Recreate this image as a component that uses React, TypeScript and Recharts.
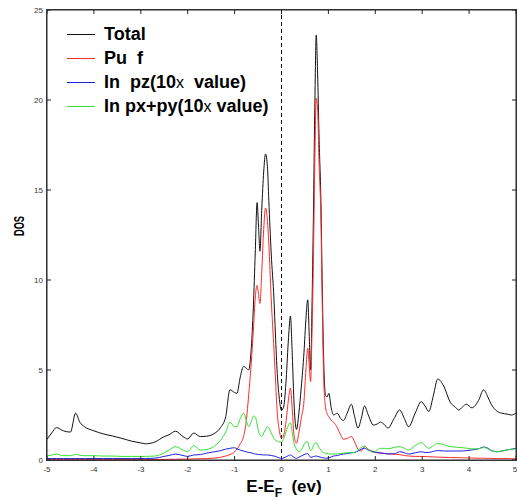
import { LineChart, Line, XAxis, YAxis, ReferenceLine } from 'recharts';

const energy = [
  -5.0, -4.9, -4.8, -4.65, -4.5, -4.39, -4.3, -4.2, -4.0, -3.8,
  -3.6, -3.4, -3.2, -3.0, -2.9, -2.7, -2.5, -2.4, -2.26, -2.1,
  -2.0, -1.87, -1.73, -1.6, -1.45, -1.3, -1.19, -1.1, -1.0, -0.95,
  -0.88, -0.81, -0.75, -0.7, -0.65, -0.6, -0.56, -0.52, -0.49, -0.46,
  -0.42, -0.38, -0.34, -0.3, -0.27, -0.22, -0.16, -0.13, -0.09, -0.05,
  0.0, 0.05, 0.1, 0.15, 0.19, 0.23, 0.27, 0.32, 0.37, 0.42,
  0.48, 0.52, 0.56, 0.59, 0.62, 0.65, 0.68, 0.71, 0.74, 0.77,
  0.8, 0.84, 0.87, 0.9, 0.94, 0.97, 1.01, 1.06, 1.11, 1.19,
  1.26, 1.32, 1.4, 1.49, 1.56, 1.63, 1.7, 1.77, 1.85, 1.96,
  2.04, 2.11, 2.2, 2.27, 2.4, 2.52, 2.62, 2.71, 2.85, 2.98,
  3.06, 3.14, 3.24, 3.33, 3.46, 3.6, 3.7, 3.78, 3.86, 3.94,
  4.06, 4.2, 4.31, 4.4, 4.46, 4.6, 4.7, 4.81, 4.9, 5.0,
];

const total = [
  1.15, 1.5, 1.8, 1.62, 1.55, 2.6, 2.1, 1.85, 1.62, 1.45,
  1.33, 1.2, 1.05, 0.95, 0.9, 1.0, 1.3, 1.4, 1.6, 1.3,
  1.17, 1.5, 1.3, 1.32, 1.45, 1.8, 2.4, 3.9, 3.75, 3.7,
  4.6, 5.2, 5.1, 5.0, 6.0, 8.5, 11.5, 14.3, 13.0, 11.6,
  14.0, 16.0, 17.0, 16.3, 14.4, 11.5, 8.9, 7.0, 4.8, 3.5,
  2.75, 3.0, 4.5, 6.8, 8.0, 5.8, 3.0, 1.7, 2.6, 4.0,
  6.0, 7.8, 8.9, 7.0, 5.0, 8.5, 13.5, 19.5, 23.6, 21.5,
  18.0, 14.4, 9.5, 5.5, 3.6, 3.5, 3.7, 2.9, 2.5, 2.6,
  2.3, 2.2, 2.6, 3.1, 2.4, 1.77, 2.3, 3.0, 2.5, 1.94,
  2.0, 2.1, 1.95, 1.77, 2.3, 2.78, 2.3, 1.85, 2.6, 3.24,
  3.0, 2.7, 3.6, 4.5, 4.1, 3.2, 2.95, 2.78, 2.95, 3.1,
  2.9, 3.3, 3.9, 3.5, 3.15, 2.7, 2.6, 2.55, 2.5, 2.6,
];

const puF = [
  0.02, 0.02, 0.02, 0.02, 0.02, 0.02, 0.02, 0.02, 0.02, 0.02,
  0.02, 0.02, 0.02, 0.02, 0.02, 0.03, 0.03, 0.04, 0.04, 0.05,
  0.05, 0.06, 0.07, 0.08, 0.1, 0.15, 0.22, 0.3, 0.45, 0.6,
  0.9, 1.3, 2.2, 3.6, 5.2, 7.2, 9.0, 9.7, 9.2, 8.7,
  10.5, 12.8, 14.0, 13.3, 12.0, 9.0, 6.1, 4.6, 2.6, 1.7,
  1.2, 1.4, 2.2, 3.4, 4.0, 2.8, 1.3, 0.93, 1.5, 2.3,
  3.3, 5.0, 6.2, 5.3, 4.35, 7.0, 11.0, 16.5, 20.1, 19.5,
  16.5, 13.5, 8.5, 4.5, 2.9, 2.6, 2.4, 2.2, 2.1, 1.8,
  1.4, 1.15, 1.2, 1.3, 1.0, 0.6, 0.5, 0.74, 0.6, 0.45,
  0.4, 0.38, 0.36, 0.34, 0.33, 0.3, 0.25, 0.22, 0.2, 0.2,
  0.19, 0.18, 0.17, 0.16, 0.15, 0.14, 0.13, 0.13, 0.12, 0.12,
  0.11, 0.1, 0.1, 0.09, 0.09, 0.08, 0.08, 0.08, 0.07, 0.07,
];

const inPz = [
  0.08, 0.08, 0.08, 0.08, 0.08, 0.08, 0.08, 0.08, 0.08, 0.08,
  0.08, 0.08, 0.08, 0.08, 0.08, 0.1, 0.2, 0.25, 0.33, 0.25,
  0.2, 0.28, 0.3, 0.38, 0.45, 0.52, 0.6, 0.65, 0.68, 0.62,
  0.55, 0.5, 0.46, 0.42, 0.4, 0.36, 0.33, 0.32, 0.3, 0.3,
  0.29, 0.28, 0.28, 0.28, 0.27, 0.25, 0.22, 0.2, 0.16, 0.12,
  0.09, 0.12, 0.18, 0.25, 0.28, 0.22, 0.14, 0.09, 0.15, 0.22,
  0.3, 0.34, 0.35, 0.25, 0.15, 0.16, 0.19, 0.21, 0.22, 0.2,
  0.18, 0.15, 0.13, 0.12, 0.1, 0.1, 0.12, 0.17, 0.22, 0.25,
  0.3, 0.33, 0.36, 0.4, 0.42, 0.5, 0.6, 0.65, 0.55, 0.46,
  0.42, 0.4, 0.36, 0.34, 0.34, 0.46, 0.4, 0.33, 0.4, 0.46,
  0.42, 0.42, 0.48, 0.52, 0.5, 0.5, 0.5, 0.5, 0.5, 0.52,
  0.56, 0.62, 0.72, 0.65, 0.55, 0.46, 0.5, 0.56, 0.6, 0.65,
];

const inPxPy = [
  0.22, 0.28, 0.33, 0.24, 0.24, 0.31, 0.26, 0.24, 0.24, 0.22,
  0.22, 0.2, 0.2, 0.2, 0.2, 0.22, 0.4, 0.55, 0.74, 0.55,
  0.46, 0.8, 0.55, 0.58, 0.74, 1.1, 1.55, 2.1, 1.85, 1.85,
  2.3, 2.6, 2.2, 1.85, 2.1, 2.44, 2.4, 2.0, 1.6, 1.4,
  1.3, 1.5, 1.7, 1.85, 1.8, 1.5, 1.2, 1.1, 1.05, 1.0,
  1.0, 1.2, 1.6, 1.95, 2.07, 1.5, 0.9, 0.6, 0.46, 0.55,
  0.85, 1.0, 1.0, 0.7, 0.52, 0.6, 0.8, 0.93, 0.96, 0.85,
  0.7, 0.55, 0.45, 0.4, 0.38, 0.36, 0.34, 0.33, 0.33, 0.34,
  0.36, 0.38, 0.4, 0.4, 0.42, 0.55, 0.7, 0.78, 0.6, 0.42,
  0.55, 0.65, 0.65, 0.62, 0.7, 0.74, 0.65, 0.56, 0.8, 0.96,
  0.8, 0.65, 0.8, 0.93, 0.85, 0.74, 0.72, 0.7, 0.68, 0.66,
  0.62, 0.62, 0.7, 0.62, 0.52, 0.46, 0.5, 0.56, 0.6, 0.62,
];

const xTicks = [-5, -4, -3, -2, -1, 0, 1, 2, 3, 4, 5];
const yTicks = [0, 5, 10, 15, 20, 25];

const data = energy.map((e, i) => ({
  e,
  total: total[i],
  puF: puF[i],
  inPz: inPz[i],
  inPxPy: inPxPy[i],
}));

const colors = { total: '#111111', puF: '#ff2a2a', inPz: '#2020e0', inPxPy: '#33e033' };

const tickStyle = { fontSize: 8, fill: '#333', fontFamily: 'Arial, "Liberation Sans", sans-serif' };
const axisLine = { stroke: '#222', strokeWidth: 1 };
const tickLine = { stroke: '#222', strokeWidth: 1 };

const legendRows = [
  { key: 'total', parts: [{ t: 'Total' }] },
  { key: 'puF', parts: [{ t: 'Pu  f' }] },
  { key: 'inPz', parts: [{ t: 'In  pz(10' }, { t: 'x', light: true }, { t: '  value)' }] },
  { key: 'inPxPy', parts: [{ t: 'In px+py(10' }, { t: 'x', light: true }, { t: ' value)' }] },
];

// empty tick label for the frame axes, keeps the inward tick marks
const NoLabel = () => <g />;

export default function App() {
  return (
    <div style={{ position: 'absolute', left: 0, top: 0, width: 517, height: 501, background: '#fff', fontFamily: 'Arial, "Liberation Sans", sans-serif' }}>
      <LineChart width={517} height={501} data={data} margin={{ top: 9, right: 0, bottom: 0, left: 0 }}>
        <XAxis
          dataKey="e"
          type="number"
          domain={[-5, 5]}
          ticks={xTicks}
          allowDataOverflow
          height={41}
          tickSize={-4}
          tickMargin={10}
          tick={tickStyle}
          axisLine={axisLine}
          tickLine={tickLine}
        />
        <XAxis
          xAxisId="top"
          orientation="top"
          dataKey="e"
          type="number"
          domain={[-5, 5]}
          ticks={xTicks}
          allowDataOverflow
          height={1}
          tickSize={-4}
          tick={NoLabel}
          axisLine={axisLine}
          tickLine={tickLine}
        />
        <YAxis
          type="number"
          domain={[0, 25]}
          ticks={yTicks}
          allowDataOverflow
          width={47}
          tickSize={-4}
          tickMargin={8}
          tick={tickStyle}
          axisLine={axisLine}
          tickLine={tickLine}
        />
        <YAxis
          yAxisId="right"
          orientation="right"
          type="number"
          domain={[0, 25]}
          ticks={yTicks}
          allowDataOverflow
          width={1}
          tickSize={-4}
          tick={NoLabel}
          axisLine={axisLine}
          tickLine={tickLine}
        />
        <ReferenceLine x={0} stroke="#111" strokeDasharray="4 3" />
        <Line dataKey="total" type="monotone" stroke={colors.total} strokeWidth={1} dot={false} isAnimationActive={false} />
        <Line xAxisId="top" yAxisId="right" dataKey="puF" type="monotone" stroke={colors.puF} strokeWidth={1} dot={false} isAnimationActive={false} />
        <Line dataKey="inPz" type="monotone" stroke={colors.inPz} strokeWidth={1} dot={false} isAnimationActive={false} />
        <Line dataKey="inPxPy" type="monotone" stroke={colors.inPxPy} strokeWidth={1} dot={false} isAnimationActive={false} />
      </LineChart>

      {/* plot frame */}
      <div
        style={{
          position: 'absolute', left: 46, top: 9, width: 469, height: 450,
          border: '1px solid #333',
          pointerEvents: 'none',
        }}
      />

      {legendRows.map((row, i) => (
        <div
          key={row.key}
          style={{ position: 'absolute', left: 67, top: 34 + i * 24.3 - 11, height: 22, display: 'flex', alignItems: 'center' }}
        >
          <div style={{ width: 28, height: 0, borderTop: `1px solid ${colors[row.key as keyof typeof colors]}`, marginRight: 9 }} />
          <span style={{ fontSize: 18, fontWeight: 'bold', color: '#000', whiteSpace: 'pre', lineHeight: '22px' }}>
            {row.parts.map((p, j) => (
              <span key={j} style={p.light ? { fontWeight: 'normal', fontSize: 16 } : undefined}>{p.t}</span>
            ))}
          </span>
        </div>
      ))}

      <div
        style={{
          position: 'absolute', left: 18, top: 226, fontSize: 15, fontWeight: 'bold', whiteSpace: 'nowrap', lineHeight: '15px',
          transform: 'translate(-50%, -50%) rotate(-90deg) scaleX(0.62)',
        }}
      >
        DOS
      </div>

      <div
        style={{
          position: 'absolute', left: 284, top: 478, fontSize: 17, fontWeight: 'bold', whiteSpace: 'pre', lineHeight: '17px',
          transform: 'translateX(-50%)',
        }}
      >
        E-E<span style={{ fontSize: 12, position: 'relative', top: 5 }}>F</span>  (ev)
      </div>
    </div>
  );
}
